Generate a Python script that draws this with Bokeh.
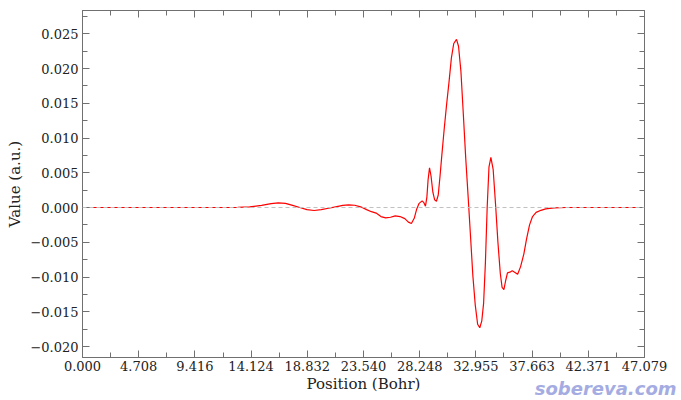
from bokeh.plotting import figure
from bokeh.models import LinearAxis, FixedTicker, Span, Title, Range1d
from bokeh.embed import file_html
from bokeh.resources import INLINE

# Curve samples (Position in Bohr, Value in a.u.)
position = [0.0, 6.0, 12.0, 13.0, 14.0, 15.0, 15.8, 16.4, 17.0, 17.6, 18.2, 18.8,
            19.4, 20.0, 20.6, 21.2, 21.8, 22.3, 22.8, 23.3, 23.8, 24.2, 24.6, 25.0,
            25.4, 25.8, 26.2, 26.6, 27.0, 27.3, 27.55, 27.8, 28.0, 28.2, 28.45, 28.6,
            28.73, 28.85, 28.95, 29.07, 29.2, 29.35, 29.5, 29.65, 29.8, 29.95, 30.1,
            30.3, 30.5, 30.7, 30.9, 31.1, 31.33, 31.5, 31.7, 31.9, 32.1, 32.3, 32.5,
            32.7, 32.9, 33.1, 33.28, 33.45, 33.6, 33.75, 33.9, 34.05, 34.21, 34.4,
            34.6, 34.8, 35.0, 35.15, 35.3, 35.45, 35.6, 35.8, 36.0, 36.2, 36.45, 36.7,
            36.97, 37.2, 37.45, 37.7, 38.0, 38.4, 38.8, 39.5, 40.5, 44.0, 47.079]
value = [0.0, 0.0, 0.0, 0.00003, 0.0001, 0.0003, 0.00055, 0.00068, 0.0006, 0.0003,
         0.0, -0.0003, -0.00043, -0.0003, -0.0001, 0.0001, 0.0003, 0.00038, 0.00033,
         0.0001, -0.0003, -0.0006, -0.0008, -0.0013, -0.0015, -0.0014, -0.0012,
         -0.0013, -0.0016, -0.0021, -0.0023, -0.0015, -0.0002, 0.0006, 0.00096,
         0.0007, 0.0002, 0.0015, 0.004, 0.0057, 0.0045, 0.0022, 0.0011, 0.0009,
         0.0018, 0.0045, 0.0075, 0.0113, 0.0148, 0.0180, 0.0215, 0.0236, 0.0242,
         0.0232, 0.0196, 0.0135, 0.0072, 0.0017, -0.0040, -0.0098, -0.0140, -0.0168,
         -0.0173, -0.0163, -0.0138, -0.0080, 0.0000, 0.0058, 0.0072, 0.0055, 0.0005,
         -0.0050, -0.0095, -0.0115, -0.0118, -0.0105, -0.0094, -0.0093, -0.0091,
         -0.0093, -0.0096, -0.0085, -0.0067, -0.0045, -0.0025, -0.0013, -0.0007,
         -0.0004, -0.0002, -0.00005, 0.0, 0.0, 0.0]

x_tick_vals = [0.0, 4.708, 9.416, 14.124, 18.832, 23.540, 28.248, 32.955, 37.663, 42.371, 47.079]
x_tick_labels = ["0.000", "4.708", "9.416", "14.124", "18.832", "23.540", "28.248",
                 "32.955", "37.663", "42.371", "47.079"]
y_tick_vals = [-0.020, -0.015, -0.010, -0.005, 0.000, 0.005, 0.010, 0.015, 0.020, 0.025]
y_tick_labels = ["\u22120.020", "\u22120.015", "\u22120.010", "\u22120.005", "0.000",
                 "0.005", "0.010", "0.015", "0.020", "0.025"]
y_minor_vals = [-0.0175, -0.0125, -0.0075, -0.0025, 0.0025, 0.0075, 0.0125, 0.0175, 0.0225, 0.0275]
x_minor_vals = [(a + b) / 2 for a, b in zip(x_tick_vals[:-1], x_tick_vals[1:])]

p = figure(width=681, height=400, output_backend="svg", toolbar_location=None,
           x_range=Range1d(0.0, 47.079), y_range=Range1d(-0.02158, 0.02835),
           min_border_left=82, min_border_right=37, min_border_top=10, min_border_bottom=43)
p.xgrid.visible = False
p.ygrid.visible = False
p.outline_line_color = "#707070"
p.background_fill_color = "white"
p.border_fill_color = "white"

xt = FixedTicker(ticks=x_tick_vals, minor_ticks=x_minor_vals)
yt = FixedTicker(ticks=y_tick_vals, minor_ticks=y_minor_vals)

AX = "#707070"
FONT = "DejaVu Serif"

def style(ax):
    ax.axis_line_color = AX
    ax.major_tick_line_color = AX
    ax.minor_tick_line_color = AX
    ax.major_tick_in = 7
    ax.major_tick_out = 0
    ax.minor_tick_in = 5
    ax.minor_tick_out = 0
    ax.major_label_text_font = FONT
    ax.major_label_text_color = "#222222"
    ax.major_label_text_font_size = "13px"
    ax.major_label_standoff = 3
    ax.axis_label_text_font = FONT
    ax.axis_label_text_font_style = "normal"
    ax.axis_label_text_font_size = "15px"
    ax.axis_label_text_color = "#222222"

xa = p.xaxis[0]
xa.ticker = xt
xa.major_label_overrides = {v: s for v, s in zip(x_tick_vals, x_tick_labels)}
xa.axis_label = "Position (Bohr)"
style(xa)
xa.axis_label_standoff = 1

ya = p.yaxis[0]
ya.ticker = yt
ya.major_label_overrides = {v: s for v, s in zip(y_tick_vals, y_tick_labels)}
ya.axis_label = "Value (a.u.)"
style(ya)
ya.major_label_standoff = 4
ya.axis_label_standoff = 3

top = LinearAxis(ticker=xt)
style(top)
top.major_label_overrides = {v: "" for v in x_tick_vals}
top.major_label_text_font_size = "1px"
top.major_label_standoff = 0
p.add_layout(top, "above")
right = LinearAxis(ticker=yt)
style(right)
right.major_label_overrides = {v: "" for v in y_tick_vals}
right.major_label_text_font_size = "1px"
right.major_label_standoff = 0
p.add_layout(right, "right")

p.add_layout(Span(location=0, dimension="width", line_color="#c0c0c0",
                  line_dash="4 3", line_width=1))

p.line(position, value, line_color="#ff0000", line_width=1.2)

wm = Title(text="sobereva.com", align="right", vertical_align="top",
           text_font="DejaVu Sans", text_font_style="bold italic",
           text_font_size="18px", text_color="#a4ace2",
           standoff=-36, offset=-32)
p.add_layout(wm, "below")

open("out.html", "w").write(file_html(p, INLINE))
